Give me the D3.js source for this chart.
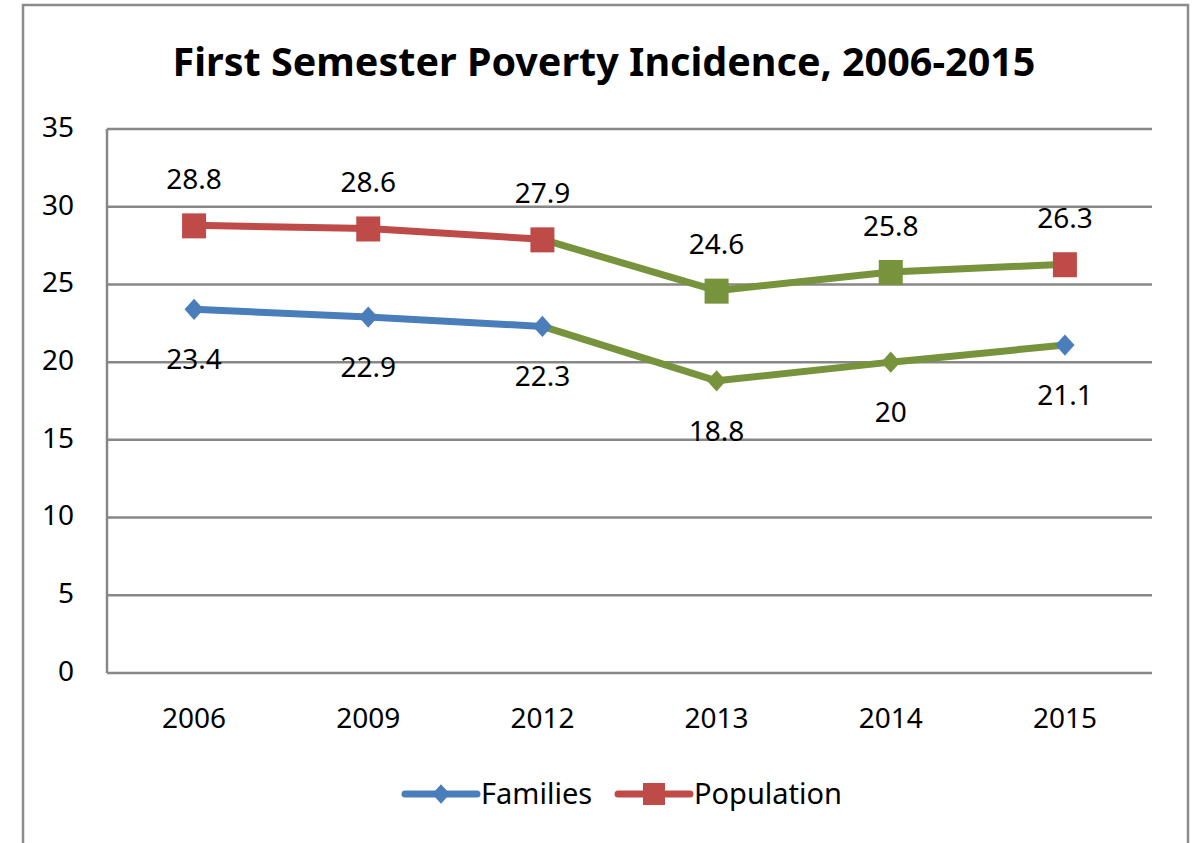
<!DOCTYPE html>
<html>
<head>
<meta charset="utf-8">
<script src="https://cdn.jsdelivr.net/npm/d3@7"></script>
<style>
body { margin: 0; background: #fff; }
</style>
</head>
<body>
<div class="canvas"></div>
<script>
var years = ["2006", "2009", "2012", "2013", "2014", "2015"];
var families = [23.4, 22.9, 22.3, 18.8, 20, 21.1];
var population = [28.8, 28.6, 27.9, 24.6, 25.8, 26.3];
// which points / segments are drawn green in the original
var green_points = [false, false, false, true, true, false];
var green_segments = [false, false, true, true, true];
var y_ticks = [0, 5, 10, 15, 20, 25, 30, 35];

var fig_width = 1197;
var fig_height = 843;
var font = "'Noto Sans', 'Open Sans', sans-serif";
var fsize = "28px";
var blue = "#4a7ebb", red = "#be4b48", green = "#77933c", grid = "#878787";

var svg = d3.select("body div.canvas").append("svg")
	.attr("width", fig_width)
	.attr("height", fig_height);

// outer chart frame
svg.append("rect")
	.attr("x", 23).attr("y", 5)
	.attr("width", 1165).attr("height", 850)
	.attr("fill", "none").attr("stroke", "#8c8c8c").attr("stroke-width", 2.5);

svg.append("text")
	.attr("x", 604).attr("y", 76)
	.attr("text-anchor", "middle")
	.style("font-family", font).style("font-weight", "bold").style("font-size", "39.5px")
	.text("First Semester Poverty Incidence, 2006-2015");

var x = d3.scaleBand().domain(years).range([107, 1152]);
var y = d3.scaleLinear().domain([0, 35]).range([673, 129]);
function cx(i) { return x(years[i]) + x.bandwidth() / 2; }

// gridlines
svg.selectAll("line.grid").data(y_ticks).enter().append("line")
	.attr("class", "grid")
	.attr("x1", 107).attr("x2", 1152)
	.attr("y1", function(d) { return y(d); })
	.attr("y2", function(d) { return y(d); })
	.attr("stroke", grid).attr("stroke-width", 2.5);
svg.append("line")
	.attr("x1", 107).attr("x2", 107).attr("y1", y(35)).attr("y2", y(0))
	.attr("stroke", grid).attr("stroke-width", 2.5);

// y axis labels
svg.selectAll("text.ytick").data(y_ticks).enter().append("text")
	.attr("class", "ytick")
	.attr("x", 74)
	.attr("y", function(d) { return y(d) - 2; })
	.attr("dy", "0.35em")
	.attr("text-anchor", "end")
	.style("font-family", font).style("font-size", fsize)
	.text(function(d) { return d; });

// x axis labels
svg.selectAll("text.xtick").data(years).enter().append("text")
	.attr("class", "xtick")
	.attr("x", function(d) { return x(d) + x.bandwidth() / 2; })
	.attr("y", 718)
	.attr("dy", "0.35em")
	.attr("text-anchor", "middle")
	.style("font-family", font).style("font-size", fsize)
	.text(function(d) { return d; });

function draw_series(values, color, marker, label_dy) {
	for (var i = 0; i < values.length - 1; i++) {
		svg.append("line")
			.attr("x1", cx(i)).attr("y1", y(values[i]))
			.attr("x2", cx(i + 1)).attr("y2", y(values[i + 1]))
			.attr("stroke", green_segments[i] ? green : color)
			.attr("stroke-width", 7)
			.attr("stroke-linecap", "round");
	}
	values.forEach(function(v, i) {
		var c = green_points[i] ? green : color;
		if (marker == "diamond") {
			svg.append("path")
				.attr("d", d3.symbol().type(d3.symbolDiamond2).size(260))
				.attr("transform", "translate(" + cx(i) + "," + y(v) + ") scale(0.95,1.05)")
				.attr("fill", c);
		} else {
			svg.append("rect")
				.attr("x", cx(i) - 12).attr("y", y(v) - 12)
				.attr("width", 24).attr("height", 25)
				.attr("fill", c);
		}
		svg.append("text")
			.attr("x", cx(i))
			.attr("y", y(v) + label_dy)
			.attr("dy", "0.35em")
			.attr("text-anchor", "middle")
			.style("font-family", font).style("font-size", fsize)
			.text(v);
	});
}

draw_series(families, blue, "diamond", 50);
draw_series(population, red, "square", -46);

// legend
var legend = [
	{name: "Families", color: blue, marker: "diamond", x: 405},
	{name: "Population", color: red, marker: "square", x: 618}
];
legend.forEach(function(l) {
	svg.append("line")
		.attr("x1", l.x).attr("x2", l.x + 72).attr("y1", 794).attr("y2", 794)
		.attr("stroke", l.color).attr("stroke-width", 7).attr("stroke-linecap", "round");
	if (l.marker == "diamond") {
		svg.append("path")
			.attr("d", d3.symbol().type(d3.symbolDiamond2).size(220))
			.attr("transform", "translate(" + (l.x + 36) + ",794) scale(0.95,1.05)")
			.attr("fill", l.color);
	} else {
		svg.append("rect")
			.attr("x", l.x + 25).attr("y", 783).attr("width", 22).attr("height", 22)
			.attr("fill", l.color);
	}
	svg.append("text")
		.attr("x", l.x + 76).attr("y", 794).attr("dy", "0.35em")
		.style("font-family", font).style("font-size", "29px")
		.text(l.name);
});
</script>
</body>
</html>
